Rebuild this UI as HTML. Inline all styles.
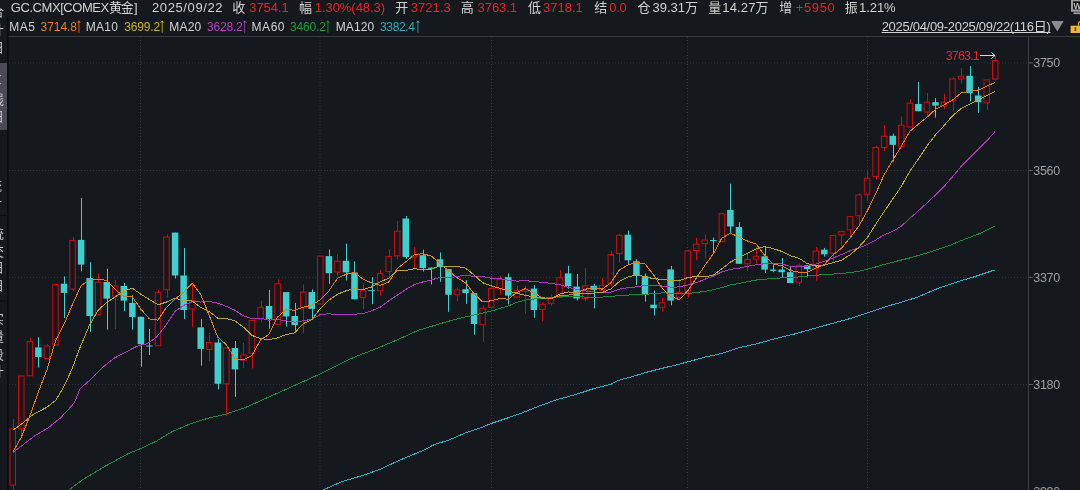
<!DOCTYPE html>
<html><head><meta charset="utf-8"><style>
html,body{margin:0;padding:0;background:#15181d;}
#w{position:relative;width:1080px;height:490px;overflow:hidden;font-family:"Liberation Sans","Noto Sans CJK SC",sans-serif;}
#w span{position:absolute;white-space:nowrap;line-height:0;}
#side{position:absolute;left:0;top:0;width:7px;height:490px;overflow:hidden;}
</style></head><body><div id="w">
<svg width="1080" height="490" viewBox="0 0 1080 490" style="position:absolute;left:0;top:0"><rect width="1080" height="490" fill="#15181d"/><rect x="0" y="63" width="7.5" height="67" fill="#4a4b55"/><rect x="7" y="17" width="1.6" height="473" fill="#0b0c0f"/><rect x="0" y="214.8" width="7" height="1.2" fill="#0b0c0f"/><rect x="0" y="300.5" width="7" height="1.2" fill="#0b0c0f"/><rect x="8.5" y="36" width="1071.5" height="1" fill="#38393e"/><rect x="1028" y="37" width="1" height="453" fill="#3e3f44"/><defs><clipPath id="cc"><rect x="8.6" y="37" width="1019.4" height="453"/></clipPath></defs><line x1="9" y1="62.9" x2="1028" y2="62.9" stroke="#303338" stroke-width="1" stroke-dasharray="1 2"/><line x1="1029" y1="62.9" x2="1033" y2="62.9" stroke="#5a5b60" stroke-width="1"/><line x1="9" y1="170.5" x2="1028" y2="170.5" stroke="#303338" stroke-width="1" stroke-dasharray="1 2"/><line x1="1029" y1="170.5" x2="1033" y2="170.5" stroke="#5a5b60" stroke-width="1"/><line x1="9" y1="277.4" x2="1028" y2="277.4" stroke="#303338" stroke-width="1" stroke-dasharray="1 2"/><line x1="1029" y1="277.4" x2="1033" y2="277.4" stroke="#5a5b60" stroke-width="1"/><line x1="9" y1="384.5" x2="1028" y2="384.5" stroke="#303338" stroke-width="1" stroke-dasharray="1 2"/><line x1="1029" y1="384.5" x2="1033" y2="384.5" stroke="#5a5b60" stroke-width="1"/><line x1="140.5" y1="37" x2="140.5" y2="490" stroke="#33363c" stroke-width="1" stroke-dasharray="1 2"/><line x1="320.0" y1="37" x2="320.0" y2="490" stroke="#33363c" stroke-width="1" stroke-dasharray="1 2"/><line x1="491.5" y1="37" x2="491.5" y2="490" stroke="#33363c" stroke-width="1" stroke-dasharray="1 2"/><line x1="687.5" y1="37" x2="687.5" y2="490" stroke="#33363c" stroke-width="1" stroke-dasharray="1 2"/><line x1="867.5" y1="37" x2="867.5" y2="490" stroke="#33363c" stroke-width="1" stroke-dasharray="1 2"/><g clip-path="url(#cc)"><line x1="13.5" y1="419" x2="13.5" y2="428.8" stroke="#d20a10"/><line x1="13.5" y1="485.1" x2="13.5" y2="492" stroke="#d20a10"/><rect x="10.00" y="428.80" width="5.5" height="56.30" fill="#15181d" stroke="#d20a10"/><line x1="21.5" y1="428.8" x2="21.5" y2="436.6" stroke="#d20a10"/><rect x="18.54" y="376.00" width="5.5" height="52.80" fill="#15181d" stroke="#d20a10"/><line x1="30.5" y1="337.8" x2="30.5" y2="341.6" stroke="#d20a10"/><line x1="30.5" y1="375.8" x2="30.5" y2="376" stroke="#d20a10"/><rect x="27.09" y="341.60" width="5.5" height="34.20" fill="#15181d" stroke="#d20a10"/><line x1="38.5" y1="337.3" x2="38.5" y2="367.6" stroke="#3ecfcf"/><rect x="35.13" y="347.40" width="6.5" height="9.60" fill="#3ecfcf"/><line x1="47.5" y1="344" x2="47.5" y2="346" stroke="#d20a10"/><rect x="44.17" y="346.00" width="5.5" height="12.50" fill="#15181d" stroke="#d20a10"/><rect x="52.72" y="284.50" width="5.5" height="60.50" fill="#15181d" stroke="#d20a10"/><line x1="64.5" y1="276.4" x2="64.5" y2="318.2" stroke="#3ecfcf"/><rect x="60.76" y="283.70" width="6.5" height="9.20" fill="#3ecfcf"/><line x1="73.5" y1="237" x2="73.5" y2="240.4" stroke="#d20a10"/><line x1="73.5" y1="289" x2="73.5" y2="291.1" stroke="#d20a10"/><rect x="69.80" y="240.40" width="5.5" height="48.60" fill="#15181d" stroke="#d20a10"/><line x1="81.5" y1="197.9" x2="81.5" y2="271.3" stroke="#3ecfcf"/><rect x="77.85" y="239.90" width="6.5" height="24.70" fill="#3ecfcf"/><line x1="90.5" y1="262.2" x2="90.5" y2="332" stroke="#3ecfcf"/><rect x="86.39" y="278.10" width="6.5" height="37.90" fill="#3ecfcf"/><line x1="98.5" y1="273.5" x2="98.5" y2="282.2" stroke="#d20a10"/><rect x="95.44" y="282.20" width="5.5" height="32.60" fill="#15181d" stroke="#d20a10"/><line x1="107.5" y1="268.9" x2="107.5" y2="329.7" stroke="#3ecfcf"/><rect x="103.48" y="282.00" width="6.5" height="16.60" fill="#3ecfcf"/><line x1="115.5" y1="280" x2="115.5" y2="286" stroke="#d20a10"/><line x1="115.5" y1="296" x2="115.5" y2="329" stroke="#d20a10"/><rect x="112.52" y="286.00" width="5.5" height="10.00" fill="#15181d" stroke="#d20a10"/><line x1="124.5" y1="283" x2="124.5" y2="311.3" stroke="#3ecfcf"/><rect x="120.57" y="286.00" width="6.5" height="14.60" fill="#3ecfcf"/><line x1="132.5" y1="295.2" x2="132.5" y2="329.7" stroke="#3ecfcf"/><rect x="129.11" y="302.90" width="6.5" height="14.10" fill="#3ecfcf"/><line x1="141.5" y1="316.8" x2="141.5" y2="366.5" stroke="#3ecfcf"/><rect x="137.65" y="316.80" width="6.5" height="27.40" fill="#3ecfcf"/><line x1="149.5" y1="329" x2="149.5" y2="355" stroke="#3ecfcf"/><rect x="146.20" y="345.50" width="6.5" height="1.00" fill="#3ecfcf"/><line x1="158.5" y1="290" x2="158.5" y2="292.3" stroke="#d20a10"/><line x1="158.5" y1="345.8" x2="158.5" y2="346" stroke="#d20a10"/><rect x="155.24" y="292.30" width="5.5" height="53.50" fill="#15181d" stroke="#d20a10"/><line x1="167.5" y1="234.2" x2="167.5" y2="237" stroke="#d20a10"/><line x1="167.5" y1="289.8" x2="167.5" y2="297.8" stroke="#d20a10"/><rect x="163.78" y="237.00" width="5.5" height="52.80" fill="#15181d" stroke="#d20a10"/><line x1="175.5" y1="232.6" x2="175.5" y2="278.5" stroke="#3ecfcf"/><rect x="171.83" y="232.60" width="6.5" height="42.90" fill="#3ecfcf"/><line x1="184.5" y1="248" x2="184.5" y2="319.2" stroke="#3ecfcf"/><rect x="180.37" y="275.50" width="6.5" height="34.50" fill="#3ecfcf"/><line x1="192.5" y1="283" x2="192.5" y2="300.8" stroke="#d20a10"/><line x1="192.5" y1="309" x2="192.5" y2="327.4" stroke="#d20a10"/><rect x="189.41" y="300.80" width="5.5" height="8.20" fill="#15181d" stroke="#d20a10"/><line x1="201.5" y1="319.2" x2="201.5" y2="365.7" stroke="#3ecfcf"/><rect x="197.46" y="327.40" width="6.5" height="21.50" fill="#3ecfcf"/><line x1="209.5" y1="332.7" x2="209.5" y2="342.5" stroke="#d20a10"/><line x1="209.5" y1="349.5" x2="209.5" y2="361.1" stroke="#d20a10"/><rect x="206.50" y="342.50" width="5.5" height="7.00" fill="#15181d" stroke="#d20a10"/><line x1="218.5" y1="338.8" x2="218.5" y2="389.3" stroke="#3ecfcf"/><rect x="214.54" y="342.50" width="6.5" height="41.30" fill="#3ecfcf"/><line x1="226.5" y1="383.8" x2="226.5" y2="416.2" stroke="#d20a10"/><rect x="223.59" y="348.00" width="5.5" height="35.80" fill="#15181d" stroke="#d20a10"/><line x1="235.5" y1="341" x2="235.5" y2="396.9" stroke="#3ecfcf"/><rect x="231.63" y="348.00" width="6.5" height="21.40" fill="#3ecfcf"/><line x1="243.5" y1="342.8" x2="243.5" y2="355" stroke="#d20a10"/><line x1="243.5" y1="360.2" x2="243.5" y2="367.9" stroke="#d20a10"/><rect x="240.67" y="355.00" width="5.5" height="5.20" fill="#15181d" stroke="#d20a10"/><line x1="252.5" y1="353.2" x2="252.5" y2="368.5" stroke="#d20a10"/><rect x="249.22" y="320.50" width="5.5" height="32.70" fill="#15181d" stroke="#d20a10"/><line x1="261.5" y1="300.6" x2="261.5" y2="307.3" stroke="#d20a10"/><line x1="261.5" y1="318.9" x2="261.5" y2="322.6" stroke="#d20a10"/><rect x="257.76" y="307.30" width="5.5" height="11.60" fill="#15181d" stroke="#d20a10"/><line x1="269.5" y1="289.9" x2="269.5" y2="328.7" stroke="#3ecfcf"/><rect x="265.81" y="306.00" width="6.5" height="12.90" fill="#3ecfcf"/><line x1="278.5" y1="279.4" x2="278.5" y2="283.8" stroke="#d20a10"/><rect x="274.85" y="283.80" width="5.5" height="40.40" fill="#15181d" stroke="#d20a10"/><line x1="286.5" y1="292.1" x2="286.5" y2="326.4" stroke="#3ecfcf"/><rect x="282.89" y="292.10" width="6.5" height="24.30" fill="#3ecfcf"/><line x1="295.5" y1="302.9" x2="295.5" y2="330.7" stroke="#3ecfcf"/><rect x="291.44" y="316.00" width="6.5" height="9.00" fill="#3ecfcf"/><line x1="303.5" y1="284.3" x2="303.5" y2="292.1" stroke="#d20a10"/><line x1="303.5" y1="307.9" x2="303.5" y2="333.6" stroke="#d20a10"/><rect x="300.48" y="292.10" width="5.5" height="15.80" fill="#15181d" stroke="#d20a10"/><line x1="312.5" y1="289.3" x2="312.5" y2="318.6" stroke="#3ecfcf"/><rect x="308.52" y="292.10" width="6.5" height="16.80" fill="#3ecfcf"/><rect x="317.57" y="256.10" width="5.5" height="47.80" fill="#15181d" stroke="#d20a10"/><line x1="329.5" y1="249.5" x2="329.5" y2="283.8" stroke="#3ecfcf"/><rect x="325.61" y="256.10" width="6.5" height="17.10" fill="#3ecfcf"/><line x1="337.5" y1="254.4" x2="337.5" y2="261.2" stroke="#d20a10"/><line x1="337.5" y1="272" x2="337.5" y2="276.4" stroke="#d20a10"/><rect x="334.65" y="261.20" width="5.5" height="10.80" fill="#15181d" stroke="#d20a10"/><line x1="346.5" y1="243.7" x2="346.5" y2="280.4" stroke="#3ecfcf"/><rect x="342.70" y="260.80" width="6.5" height="11.60" fill="#3ecfcf"/><line x1="354.5" y1="261.3" x2="354.5" y2="299.3" stroke="#3ecfcf"/><rect x="351.24" y="272.40" width="6.5" height="26.90" fill="#3ecfcf"/><line x1="363.5" y1="283.4" x2="363.5" y2="290.2" stroke="#d20a10"/><line x1="363.5" y1="297.6" x2="363.5" y2="309.1" stroke="#d20a10"/><rect x="360.28" y="290.20" width="5.5" height="7.40" fill="#15181d" stroke="#d20a10"/><line x1="372.5" y1="277.2" x2="372.5" y2="304.2" stroke="#3ecfcf"/><rect x="368.33" y="290.20" width="6.5" height="1.00" fill="#3ecfcf"/><line x1="380.5" y1="269.9" x2="380.5" y2="273.6" stroke="#d20a10"/><line x1="380.5" y1="290.7" x2="380.5" y2="295.6" stroke="#d20a10"/><rect x="377.37" y="273.60" width="5.5" height="17.10" fill="#15181d" stroke="#d20a10"/><line x1="389.5" y1="249.1" x2="389.5" y2="256.4" stroke="#d20a10"/><line x1="389.5" y1="271.6" x2="389.5" y2="277.2" stroke="#d20a10"/><rect x="385.91" y="256.40" width="5.5" height="15.20" fill="#15181d" stroke="#d20a10"/><line x1="397.5" y1="220.9" x2="397.5" y2="231.2" stroke="#d20a10"/><line x1="397.5" y1="255.9" x2="397.5" y2="259.4" stroke="#d20a10"/><rect x="394.46" y="231.20" width="5.5" height="24.70" fill="#15181d" stroke="#d20a10"/><line x1="406.5" y1="216" x2="406.5" y2="258.8" stroke="#3ecfcf"/><rect x="402.50" y="218.50" width="6.5" height="38.50" fill="#3ecfcf"/><line x1="414.5" y1="247.1" x2="414.5" y2="255.5" stroke="#d20a10"/><line x1="414.5" y1="257" x2="414.5" y2="268.7" stroke="#d20a10"/><rect x="411.54" y="255.50" width="5.5" height="1.50" fill="#15181d" stroke="#d20a10"/><line x1="423.5" y1="249.6" x2="423.5" y2="271.5" stroke="#3ecfcf"/><rect x="419.59" y="255.20" width="6.5" height="12.90" fill="#3ecfcf"/><line x1="431.5" y1="267.6" x2="431.5" y2="284.4" stroke="#3ecfcf"/><rect x="428.13" y="267.60" width="6.5" height="1.30" fill="#3ecfcf"/><line x1="440.5" y1="252.4" x2="440.5" y2="281.8" stroke="#3ecfcf"/><rect x="436.68" y="259.30" width="6.5" height="7.80" fill="#3ecfcf"/><line x1="448.5" y1="269.1" x2="448.5" y2="311.9" stroke="#3ecfcf"/><rect x="445.22" y="269.10" width="6.5" height="25.70" fill="#3ecfcf"/><line x1="457.5" y1="287.5" x2="457.5" y2="289.9" stroke="#d20a10"/><line x1="457.5" y1="294.8" x2="457.5" y2="301.4" stroke="#d20a10"/><rect x="454.26" y="289.90" width="5.5" height="4.90" fill="#15181d" stroke="#d20a10"/><line x1="466.5" y1="280.1" x2="466.5" y2="303.9" stroke="#3ecfcf"/><rect x="462.31" y="289.20" width="6.5" height="3.90" fill="#3ecfcf"/><line x1="474.5" y1="293.1" x2="474.5" y2="334.7" stroke="#3ecfcf"/><rect x="470.85" y="293.10" width="6.5" height="30.90" fill="#3ecfcf"/><line x1="483.5" y1="305.3" x2="483.5" y2="308.4" stroke="#d20a10"/><line x1="483.5" y1="324.7" x2="483.5" y2="342" stroke="#d20a10"/><rect x="479.89" y="308.40" width="5.5" height="16.30" fill="#15181d" stroke="#d20a10"/><line x1="491.5" y1="276.2" x2="491.5" y2="288.4" stroke="#d20a10"/><line x1="491.5" y1="307.5" x2="491.5" y2="308.3" stroke="#d20a10"/><rect x="488.44" y="288.40" width="5.5" height="19.10" fill="#15181d" stroke="#d20a10"/><line x1="500.5" y1="276.2" x2="500.5" y2="279.4" stroke="#d20a10"/><line x1="500.5" y1="288.6" x2="500.5" y2="294.8" stroke="#d20a10"/><rect x="496.98" y="279.40" width="5.5" height="9.20" fill="#15181d" stroke="#d20a10"/><line x1="508.5" y1="273.4" x2="508.5" y2="304.3" stroke="#3ecfcf"/><rect x="505.02" y="277.10" width="6.5" height="18.50" fill="#3ecfcf"/><line x1="517.5" y1="285.8" x2="517.5" y2="290.3" stroke="#d20a10"/><line x1="517.5" y1="297" x2="517.5" y2="297.6" stroke="#d20a10"/><rect x="514.07" y="290.30" width="5.5" height="6.70" fill="#15181d" stroke="#d20a10"/><line x1="525.5" y1="285.8" x2="525.5" y2="289.2" stroke="#d20a10"/><line x1="525.5" y1="291.4" x2="525.5" y2="313.9" stroke="#d20a10"/><rect x="522.61" y="289.20" width="5.5" height="2.20" fill="#15181d" stroke="#d20a10"/><line x1="534.5" y1="285.2" x2="534.5" y2="317.8" stroke="#3ecfcf"/><rect x="530.65" y="288.60" width="6.5" height="21.40" fill="#3ecfcf"/><line x1="542.5" y1="302.2" x2="542.5" y2="304.3" stroke="#d20a10"/><line x1="542.5" y1="309.4" x2="542.5" y2="321.2" stroke="#d20a10"/><rect x="539.70" y="304.30" width="5.5" height="5.10" fill="#15181d" stroke="#d20a10"/><line x1="551.5" y1="294.4" x2="551.5" y2="298.1" stroke="#d20a10"/><line x1="551.5" y1="303.6" x2="551.5" y2="305.6" stroke="#d20a10"/><rect x="548.24" y="298.10" width="5.5" height="5.50" fill="#15181d" stroke="#d20a10"/><line x1="560.5" y1="270.3" x2="560.5" y2="277.7" stroke="#d20a10"/><rect x="556.78" y="277.70" width="5.5" height="19.70" fill="#15181d" stroke="#d20a10"/><line x1="568.5" y1="265.8" x2="568.5" y2="288.7" stroke="#3ecfcf"/><rect x="564.83" y="273.40" width="6.5" height="12.80" fill="#3ecfcf"/><line x1="577.5" y1="274" x2="577.5" y2="300.5" stroke="#3ecfcf"/><rect x="573.37" y="286.60" width="6.5" height="11.90" fill="#3ecfcf"/><line x1="585.5" y1="267.9" x2="585.5" y2="285.8" stroke="#d20a10"/><line x1="585.5" y1="298.5" x2="585.5" y2="301.5" stroke="#d20a10"/><rect x="582.41" y="285.80" width="5.5" height="12.70" fill="#15181d" stroke="#d20a10"/><line x1="594.5" y1="283.8" x2="594.5" y2="308.3" stroke="#3ecfcf"/><rect x="590.46" y="285.80" width="6.5" height="4.10" fill="#3ecfcf"/><line x1="602.5" y1="278.2" x2="602.5" y2="285.3" stroke="#d20a10"/><rect x="599.50" y="285.30" width="5.5" height="4.90" fill="#15181d" stroke="#d20a10"/><line x1="611.5" y1="250.8" x2="611.5" y2="254.4" stroke="#d20a10"/><line x1="611.5" y1="284.1" x2="611.5" y2="287.1" stroke="#d20a10"/><rect x="608.04" y="254.40" width="5.5" height="29.70" fill="#15181d" stroke="#d20a10"/><line x1="619.5" y1="233.9" x2="619.5" y2="235.3" stroke="#d20a10"/><line x1="619.5" y1="253.5" x2="619.5" y2="262.8" stroke="#d20a10"/><rect x="616.59" y="235.30" width="5.5" height="18.20" fill="#15181d" stroke="#d20a10"/><line x1="628.5" y1="230.6" x2="628.5" y2="264.8" stroke="#3ecfcf"/><rect x="624.63" y="234.70" width="6.5" height="25.60" fill="#3ecfcf"/><line x1="636.5" y1="259.2" x2="636.5" y2="284.9" stroke="#3ecfcf"/><rect x="633.18" y="261.20" width="6.5" height="14.30" fill="#3ecfcf"/><line x1="645.5" y1="273.5" x2="645.5" y2="301.6" stroke="#3ecfcf"/><rect x="641.72" y="276.10" width="6.5" height="18.40" fill="#3ecfcf"/><line x1="654.5" y1="290.4" x2="654.5" y2="315.5" stroke="#3ecfcf"/><rect x="650.26" y="304.70" width="6.5" height="3.50" fill="#3ecfcf"/><line x1="662.5" y1="298" x2="662.5" y2="302.7" stroke="#d20a10"/><line x1="662.5" y1="307.3" x2="662.5" y2="312.2" stroke="#d20a10"/><rect x="659.31" y="302.70" width="5.5" height="4.60" fill="#15181d" stroke="#d20a10"/><line x1="671.5" y1="265.9" x2="671.5" y2="305.3" stroke="#3ecfcf"/><rect x="667.35" y="269.40" width="6.5" height="31.20" fill="#3ecfcf"/><line x1="679.5" y1="279.2" x2="679.5" y2="292.4" stroke="#d20a10"/><line x1="679.5" y1="297.6" x2="679.5" y2="300.6" stroke="#d20a10"/><rect x="676.39" y="292.40" width="5.5" height="5.20" fill="#15181d" stroke="#d20a10"/><line x1="688.5" y1="249.8" x2="688.5" y2="251" stroke="#d20a10"/><line x1="688.5" y1="291.4" x2="688.5" y2="297.6" stroke="#d20a10"/><rect x="684.94" y="251.00" width="5.5" height="40.40" fill="#15181d" stroke="#d20a10"/><line x1="696.5" y1="237.6" x2="696.5" y2="244.2" stroke="#d20a10"/><line x1="696.5" y1="250.5" x2="696.5" y2="260.3" stroke="#d20a10"/><rect x="693.48" y="244.20" width="5.5" height="6.30" fill="#15181d" stroke="#d20a10"/><line x1="705.5" y1="234.4" x2="705.5" y2="240" stroke="#d20a10"/><line x1="705.5" y1="243.7" x2="705.5" y2="257.9" stroke="#d20a10"/><rect x="702.02" y="240.00" width="5.5" height="3.70" fill="#15181d" stroke="#d20a10"/><line x1="713.5" y1="237.6" x2="713.5" y2="253.5" stroke="#3ecfcf"/><rect x="710.07" y="240.00" width="6.5" height="1.20" fill="#3ecfcf"/><rect x="719.11" y="213.80" width="5.5" height="27.90" fill="#15181d" stroke="#d20a10"/><line x1="730.5" y1="183.7" x2="730.5" y2="232.7" stroke="#3ecfcf"/><rect x="727.15" y="209.90" width="6.5" height="16.60" fill="#3ecfcf"/><line x1="739.5" y1="222.1" x2="739.5" y2="263.8" stroke="#3ecfcf"/><rect x="735.70" y="227.00" width="6.5" height="36.80" fill="#3ecfcf"/><line x1="747.5" y1="253.5" x2="747.5" y2="259.6" stroke="#d20a10"/><line x1="747.5" y1="263.8" x2="747.5" y2="271.1" stroke="#d20a10"/><rect x="744.74" y="259.60" width="5.5" height="4.20" fill="#15181d" stroke="#d20a10"/><line x1="756.5" y1="247.1" x2="756.5" y2="256.3" stroke="#d20a10"/><line x1="756.5" y1="259.2" x2="756.5" y2="263.6" stroke="#d20a10"/><rect x="753.28" y="256.30" width="5.5" height="2.90" fill="#15181d" stroke="#d20a10"/><line x1="765.5" y1="247.1" x2="765.5" y2="273.1" stroke="#3ecfcf"/><rect x="761.33" y="256.30" width="6.5" height="13.30" fill="#3ecfcf"/><line x1="773.5" y1="264.4" x2="773.5" y2="272.2" stroke="#3ecfcf"/><rect x="769.87" y="269.60" width="6.5" height="1.30" fill="#3ecfcf"/><line x1="782.5" y1="258" x2="782.5" y2="277.8" stroke="#3ecfcf"/><rect x="778.41" y="269.60" width="6.5" height="2.60" fill="#3ecfcf"/><line x1="790.5" y1="266.7" x2="790.5" y2="283" stroke="#3ecfcf"/><rect x="786.96" y="272.20" width="6.5" height="10.80" fill="#3ecfcf"/><line x1="799.5" y1="263.2" x2="799.5" y2="265.3" stroke="#d20a10"/><line x1="799.5" y1="282.3" x2="799.5" y2="286.1" stroke="#d20a10"/><rect x="796.00" y="265.30" width="5.5" height="17.00" fill="#15181d" stroke="#d20a10"/><line x1="807.5" y1="265.3" x2="807.5" y2="277.4" stroke="#3ecfcf"/><rect x="804.05" y="265.30" width="6.5" height="3.80" fill="#3ecfcf"/><line x1="816.5" y1="247.1" x2="816.5" y2="251.1" stroke="#d20a10"/><line x1="816.5" y1="268.8" x2="816.5" y2="280.6" stroke="#d20a10"/><rect x="813.09" y="251.10" width="5.5" height="17.70" fill="#15181d" stroke="#d20a10"/><line x1="824.5" y1="247.9" x2="824.5" y2="256.7" stroke="#3ecfcf"/><rect x="821.13" y="249.70" width="6.5" height="4.60" fill="#3ecfcf"/><line x1="833.5" y1="253.4" x2="833.5" y2="261.7" stroke="#d20a10"/><rect x="830.18" y="235.40" width="5.5" height="18.00" fill="#15181d" stroke="#d20a10"/><line x1="841.5" y1="231" x2="841.5" y2="231.4" stroke="#d20a10"/><line x1="841.5" y1="235" x2="841.5" y2="246" stroke="#d20a10"/><rect x="838.72" y="231.40" width="5.5" height="3.60" fill="#15181d" stroke="#d20a10"/><line x1="850.5" y1="215.8" x2="850.5" y2="216.7" stroke="#d20a10"/><line x1="850.5" y1="229.9" x2="850.5" y2="236" stroke="#d20a10"/><rect x="847.26" y="216.70" width="5.5" height="13.20" fill="#15181d" stroke="#d20a10"/><line x1="859.5" y1="193.2" x2="859.5" y2="195" stroke="#d20a10"/><line x1="859.5" y1="215.8" x2="859.5" y2="224" stroke="#d20a10"/><rect x="855.81" y="195.00" width="5.5" height="20.80" fill="#15181d" stroke="#d20a10"/><line x1="867.5" y1="170.8" x2="867.5" y2="178.2" stroke="#d20a10"/><line x1="867.5" y1="194.2" x2="867.5" y2="201.1" stroke="#d20a10"/><rect x="864.35" y="178.20" width="5.5" height="16.00" fill="#15181d" stroke="#d20a10"/><line x1="876.5" y1="145.6" x2="876.5" y2="147.5" stroke="#d20a10"/><line x1="876.5" y1="176.4" x2="876.5" y2="179.4" stroke="#d20a10"/><rect x="872.89" y="147.50" width="5.5" height="28.90" fill="#15181d" stroke="#d20a10"/><line x1="884.5" y1="125.2" x2="884.5" y2="136.3" stroke="#d20a10"/><line x1="884.5" y1="147.5" x2="884.5" y2="150.9" stroke="#d20a10"/><rect x="881.44" y="136.30" width="5.5" height="11.20" fill="#15181d" stroke="#d20a10"/><line x1="893.5" y1="133.7" x2="893.5" y2="161.5" stroke="#3ecfcf"/><rect x="889.48" y="135.80" width="6.5" height="9.00" fill="#3ecfcf"/><line x1="901.5" y1="116.4" x2="901.5" y2="125.2" stroke="#d20a10"/><rect x="898.52" y="125.20" width="5.5" height="21.70" fill="#15181d" stroke="#d20a10"/><line x1="910.5" y1="99.2" x2="910.5" y2="103.2" stroke="#d20a10"/><rect x="907.07" y="103.20" width="5.5" height="23.80" fill="#15181d" stroke="#d20a10"/><line x1="918.5" y1="81.9" x2="918.5" y2="111.2" stroke="#3ecfcf"/><rect x="915.11" y="104.00" width="6.5" height="7.20" fill="#3ecfcf"/><line x1="927.5" y1="93.1" x2="927.5" y2="102.2" stroke="#d20a10"/><line x1="927.5" y1="112" x2="927.5" y2="115.6" stroke="#d20a10"/><rect x="924.15" y="102.20" width="5.5" height="9.80" fill="#15181d" stroke="#d20a10"/><line x1="935.5" y1="98.2" x2="935.5" y2="117.5" stroke="#3ecfcf"/><rect x="932.20" y="102.20" width="6.5" height="3.40" fill="#3ecfcf"/><line x1="944.5" y1="93.6" x2="944.5" y2="102.2" stroke="#d20a10"/><line x1="944.5" y1="105.9" x2="944.5" y2="109.2" stroke="#d20a10"/><rect x="941.24" y="102.20" width="5.5" height="3.70" fill="#15181d" stroke="#d20a10"/><line x1="953.5" y1="76.6" x2="953.5" y2="79" stroke="#d20a10"/><line x1="953.5" y1="101" x2="953.5" y2="111.4" stroke="#d20a10"/><rect x="949.78" y="79.00" width="5.5" height="22.00" fill="#15181d" stroke="#d20a10"/><line x1="961.5" y1="67.9" x2="961.5" y2="76.2" stroke="#d20a10"/><line x1="961.5" y1="79" x2="961.5" y2="83.5" stroke="#d20a10"/><rect x="958.33" y="76.20" width="5.5" height="2.80" fill="#15181d" stroke="#d20a10"/><line x1="970.5" y1="66.1" x2="970.5" y2="101.5" stroke="#3ecfcf"/><rect x="966.37" y="75.80" width="6.5" height="17.30" fill="#3ecfcf"/><line x1="978.5" y1="86.8" x2="978.5" y2="112.9" stroke="#3ecfcf"/><rect x="974.92" y="95.50" width="6.5" height="6.70" fill="#3ecfcf"/><line x1="987.5" y1="102.8" x2="987.5" y2="110.1" stroke="#d20a10"/><rect x="983.96" y="79.90" width="5.5" height="22.90" fill="#15181d" stroke="#d20a10"/><line x1="995.5" y1="55.5" x2="995.5" y2="60.6" stroke="#d20a10"/><line x1="995.5" y1="79" x2="995.5" y2="80.7" stroke="#d20a10"/><rect x="992.50" y="60.60" width="5.5" height="18.40" fill="#15181d" stroke="#d20a10"/><polyline points="300.00,499.00 324.60,489.30 342.20,481.50 364.40,475.00 381.10,468.90 399.60,460.20 421.90,450.90 434.80,444.40 449.60,439.80 464.40,433.30 483.00,426.90 492.20,423.10 520.00,413.80 538.50,406.30 557.00,399.60 575.60,394.60 594.10,388.50 610.70,384.40 618.10,380.40 631.10,377.00 645.90,372.40 660.70,368.70 679.30,364.10 686.70,362.20 705.20,357.00 720.00,353.90 738.50,347.80 757.00,343.70 775.60,338.50 794.10,334.10 812.60,328.90 831.10,323.70 849.60,318.70 868.10,312.60 886.70,306.30 900.00,302.70 918.40,296.80 936.80,288.90 955.10,282.50 973.50,277.00 995.25,269.80" fill="none" stroke="#2aaac4" stroke-width="1" stroke-linejoin="round" shape-rendering="crispEdges"/><polyline points="12.50,523.00 69.00,490.00 82.40,479.90 104.90,466.40 127.30,454.10 140.80,448.50 156.50,441.10 172.20,431.60 190.20,423.80 208.10,418.20 226.10,414.10 244.10,408.10 272.40,395.40 294.90,385.30 317.30,375.20 339.80,364.00 355.50,356.60 373.50,349.80 395.90,340.40 418.40,330.30 440.00,323.70 458.50,318.50 477.00,314.40 495.60,309.80 508.00,306.00 516.82,302.40 525.36,300.08 533.90,298.98 542.45,298.36 550.99,297.38 559.53,296.24 568.08,296.27 576.62,296.36 585.16,297.12 593.71,297.54 602.25,297.02 610.79,296.56 619.34,295.51 627.88,295.08 636.43,294.66 644.97,294.28 653.51,293.69 662.06,292.95 670.60,293.09 679.14,294.02 687.69,293.61 696.23,292.51 704.77,291.50 713.32,289.70 721.86,287.56 730.40,284.94 738.95,283.53 747.49,281.70 756.03,280.06 764.58,279.21 773.12,278.60 781.66,277.82 790.21,277.81 798.75,276.96 807.30,276.03 815.84,275.35 824.38,274.44 832.93,274.09 841.47,273.39 850.01,272.65 858.56,271.36 867.10,269.34 875.64,266.96 884.19,264.38 892.73,262.24 901.27,260.05 909.82,257.92 918.36,255.49 926.90,252.93 935.45,250.22 943.99,247.45 952.53,244.31 961.08,240.67 969.62,237.39 978.17,234.20 986.71,230.14 995.25,226.01" fill="none" stroke="#188c3a" stroke-width="1" stroke-linejoin="round" shape-rendering="crispEdges"/><polyline points="12.80,452.50 23.90,444.10 34.50,436.10 47.80,428.10 61.00,417.50 74.30,402.90 80.00,388.90 91.20,378.80 102.50,367.50 113.70,358.50 124.90,352.50 136.20,346.60 147.40,343.50 156.40,337.20 165.40,326.00 172.10,315.80 175.08,311.39 183.62,305.44 192.16,301.69 200.71,302.05 209.25,301.32 217.79,303.22 226.34,306.39 234.88,310.21 243.42,315.94 251.97,318.74 260.51,318.31 269.06,320.14 277.60,319.40 286.14,320.92 294.69,322.14 303.23,320.89 311.77,319.13 320.32,314.61 328.86,313.66 337.40,314.87 345.95,314.71 354.49,314.18 363.03,313.64 371.58,310.76 380.12,307.31 388.66,300.94 397.21,295.11 405.75,289.49 414.29,284.51 422.84,281.89 431.38,279.97 439.93,277.38 448.47,277.93 457.01,276.61 465.56,275.01 474.10,276.61 482.64,276.58 491.19,278.19 499.73,278.50 508.27,280.23 516.82,281.12 525.36,280.62 533.90,281.61 542.45,282.26 550.99,283.49 559.53,284.55 568.08,287.30 576.62,289.38 585.16,290.89 593.71,291.98 602.25,292.80 610.79,292.17 619.34,289.19 627.88,287.71 636.43,286.83 644.97,285.36 653.51,285.34 662.06,286.06 670.60,287.12 679.14,286.96 687.69,285.00 696.23,282.75 704.77,279.25 713.32,276.09 721.86,271.88 730.40,269.31 738.95,268.19 747.49,266.25 756.03,264.77 764.58,263.76 773.12,263.04 781.66,263.93 790.21,266.31 798.75,266.56 807.30,266.25 815.84,264.07 824.38,261.38 832.93,258.01 841.47,254.56 850.01,250.77 858.56,247.97 867.10,244.67 875.64,240.04 884.19,234.80 892.73,231.35 901.27,226.28 909.82,218.26 918.36,210.83 926.90,203.13 935.45,194.93 943.99,186.50 952.53,176.83 961.08,166.50 969.62,157.88 978.17,149.54 986.71,140.98 995.25,131.30" fill="none" stroke="#a838b8" stroke-width="1" stroke-linejoin="round" shape-rendering="crispEdges"/><polyline points="12.80,430.30 21.30,424.20 33.20,414.40 46.50,407.50 55.70,400.30 63.70,387.00 71.70,369.80 79.60,348.60 89.64,324.78 98.19,310.12 106.73,302.38 115.27,296.82 123.82,291.18 132.36,288.28 140.90,294.25 149.45,299.61 157.99,304.80 166.53,302.04 175.08,297.99 183.62,300.77 192.16,300.99 200.71,307.28 209.25,311.47 217.79,318.15 226.34,318.53 234.88,320.82 243.42,327.09 251.97,335.44 260.51,338.62 269.06,339.51 277.60,337.81 286.14,334.56 294.69,332.81 303.23,323.64 311.77,319.73 320.32,308.40 328.86,300.22 337.40,294.29 345.95,290.80 354.49,288.84 363.03,289.48 371.58,286.96 380.12,281.82 388.66,278.25 397.21,270.48 405.75,270.57 414.29,268.80 422.84,269.49 431.38,269.14 439.93,265.92 448.47,266.38 457.01,266.25 465.56,268.20 474.10,274.96 482.64,282.68 491.19,285.82 499.73,288.21 508.27,290.96 516.82,293.10 525.36,295.31 533.90,296.83 542.45,298.27 550.99,298.77 559.53,294.14 568.08,291.92 576.62,292.93 585.16,293.57 593.71,293.00 602.25,292.50 610.79,289.02 619.34,281.55 627.88,277.15 636.43,274.89 644.97,276.57 653.51,278.77 662.06,279.19 670.60,280.67 679.14,280.92 687.69,277.49 696.23,276.47 704.77,276.94 713.32,275.03 721.86,268.86 730.40,262.06 738.95,257.62 747.49,253.31 756.03,248.88 764.58,246.60 773.12,248.59 781.66,251.39 790.21,255.69 798.75,258.10 807.30,263.63 815.84,266.09 824.38,265.14 832.93,262.72 841.47,260.23 850.01,254.94 858.56,247.35 867.10,237.95 875.64,224.40 884.19,211.50 892.73,199.07 901.27,186.48 909.82,171.37 918.36,158.95 926.90,146.03 935.45,134.92 943.99,125.64 952.53,115.72 961.08,108.59 969.62,104.27 978.17,100.01 986.71,95.48 995.25,91.22" fill="none" stroke="#b8a52c" stroke-width="1" stroke-linejoin="round" shape-rendering="crispEdges"/><polyline points="12.75,452.30 21.30,437.40 29.80,416.00 38.40,392.00 46.92,369.88 55.47,341.02 64.01,324.40 72.55,304.16 81.10,285.68 89.64,279.68 98.19,279.22 106.73,280.36 115.27,289.48 123.82,296.68 132.36,296.88 140.90,309.28 149.45,318.86 157.99,320.12 166.53,307.40 175.08,299.10 183.62,292.26 192.16,283.12 200.71,294.44 209.25,315.54 217.79,337.20 226.34,344.80 234.88,358.52 243.42,359.74 251.97,355.34 260.51,340.04 269.06,334.22 277.60,317.10 286.14,309.38 294.69,310.28 303.23,307.24 311.77,305.24 320.32,299.70 328.86,291.06 337.40,278.30 345.95,274.36 354.49,272.44 363.03,279.26 371.58,282.86 380.12,285.34 388.66,282.14 397.21,268.52 405.75,261.88 414.29,254.74 422.84,253.64 431.38,256.14 439.93,263.32 448.47,270.88 457.01,277.76 465.56,282.76 474.10,293.78 482.64,302.04 491.19,300.76 499.73,298.66 508.27,299.16 516.82,292.42 525.36,288.58 533.90,292.90 542.45,297.88 550.99,298.38 559.53,295.86 568.08,295.26 576.62,292.96 585.16,289.26 593.71,287.62 602.25,289.14 610.79,282.78 619.34,270.14 627.88,265.04 636.43,262.16 644.97,264.00 653.51,274.76 662.06,288.24 670.60,296.30 679.14,299.68 687.69,290.98 696.23,278.18 704.77,265.64 713.32,253.76 721.86,238.04 730.40,233.14 738.95,237.06 747.49,240.98 756.03,244.00 764.58,255.16 773.12,264.04 781.66,265.72 790.21,270.40 798.75,272.20 807.30,272.10 815.84,268.14 824.38,264.56 832.93,255.04 841.47,248.26 850.01,237.78 858.56,226.56 867.10,211.34 875.64,193.76 884.19,174.74 892.73,160.36 901.27,146.40 909.82,131.40 918.36,124.14 926.90,117.32 935.45,109.48 943.99,104.88 952.53,100.04 961.08,93.04 969.62,91.22 978.17,90.54 986.71,86.08 995.25,82.40" fill="none" stroke="#e47c1a" stroke-width="1" stroke-linejoin="round" shape-rendering="crispEdges"/></g><line x1="980" y1="55.5" x2="995" y2="55.5" stroke="#d8d8d8" stroke-width="1"/><polyline points="991.5,52.5 995,55.5 991.5,58.5" fill="none" stroke="#d8d8d8" stroke-width="1"/><rect x="1071" y="0" width="12" height="11.8" fill="#9c9c9c"/><rect x="1073" y="1.3" width="10" height="8.1" fill="#0c0d10"/><rect x="1073.6" y="11.8" width="9" height="1.1" fill="#5f6a74"/><rect x="1073.4" y="12.9" width="9" height="1.2" fill="#a4a4a4"/><polygon points="1051,21 1063.7,21 1057.3,31.6" fill="#8c8c8c"/><rect x="1070.6" y="25.7" width="10" height="7.3" fill="#f0b43a"/><rect x="1074.6" y="27.3" width="1.6" height="3.6" fill="#5a3e10"/><path d="M1078.5 25.7 V23.5 a2 2 0 0 1 4 0" fill="none" stroke="#f0b43a" stroke-width="1.2"/></svg>
<span style="left:10.8px;top:7.80px;color:#d2d2d2;font-size:13px;letter-spacing:-0.445px;font-family:'Liberation Sans','Noto Sans CJK SC',sans-serif;">GC.CMX[COMEX</span><span style="left:109.1px;top:7.80px;color:#d2d2d2;font-size:13px;letter-spacing:-1.4px;font-family:'Liberation Sans','Noto Sans CJK SC',sans-serif;">黄金</span><span style="left:133.9px;top:7.80px;color:#d2d2d2;font-size:13px;letter-spacing:0.0px;font-family:'Liberation Sans','Noto Sans CJK SC',sans-serif;">]</span><span style="left:152.0px;top:7.80px;color:#d2d2d2;font-size:13px;letter-spacing:0.611px;font-family:'Liberation Sans','Noto Sans CJK SC',sans-serif;">2025/09/22</span><span style="left:232.3px;top:7.80px;color:#d2d2d2;font-size:13px;letter-spacing:0.0px;font-family:'Liberation Sans','Noto Sans CJK SC',sans-serif;">收</span><span style="left:249.2px;top:7.80px;color:#e8222c;font-size:13px;letter-spacing:-0.04px;font-family:'Liberation Sans','Noto Sans CJK SC',sans-serif;">3754.1</span><span style="left:299.0px;top:7.80px;color:#d2d2d2;font-size:13px;letter-spacing:0.0px;font-family:'Liberation Sans','Noto Sans CJK SC',sans-serif;">幅</span><span style="left:314.8px;top:7.80px;color:#e8222c;font-size:13px;letter-spacing:-0.06px;font-family:'Liberation Sans','Noto Sans CJK SC',sans-serif;">1.30%(48.3)</span><span style="left:395.3px;top:7.80px;color:#d2d2d2;font-size:13px;letter-spacing:0.0px;font-family:'Liberation Sans','Noto Sans CJK SC',sans-serif;">开</span><span style="left:410.8px;top:7.80px;color:#e8222c;font-size:13px;letter-spacing:0.04px;font-family:'Liberation Sans','Noto Sans CJK SC',sans-serif;">3721.3</span><span style="left:460.7px;top:7.80px;color:#d2d2d2;font-size:13px;letter-spacing:0.0px;font-family:'Liberation Sans','Noto Sans CJK SC',sans-serif;">高</span><span style="left:477.5px;top:7.80px;color:#e8222c;font-size:13px;letter-spacing:-0.04px;font-family:'Liberation Sans','Noto Sans CJK SC',sans-serif;">3763.1</span><span style="left:528.0px;top:7.80px;color:#d2d2d2;font-size:13px;letter-spacing:0.0px;font-family:'Liberation Sans','Noto Sans CJK SC',sans-serif;">低</span><span style="left:543.0px;top:7.80px;color:#e8222c;font-size:13px;letter-spacing:0.0px;font-family:'Liberation Sans','Noto Sans CJK SC',sans-serif;">3718.1</span><span style="left:594.2px;top:7.80px;color:#d2d2d2;font-size:13px;letter-spacing:0.0px;font-family:'Liberation Sans','Noto Sans CJK SC',sans-serif;">结</span><span style="left:609.2px;top:7.80px;color:#e8222c;font-size:13px;letter-spacing:-0.25px;font-family:'Liberation Sans','Noto Sans CJK SC',sans-serif;">0.0</span><span style="left:637.5px;top:7.80px;color:#d2d2d2;font-size:13px;letter-spacing:0.0px;font-family:'Liberation Sans','Noto Sans CJK SC',sans-serif;">仓</span><span style="left:652.5px;top:7.80px;color:#d2d2d2;font-size:13px;letter-spacing:0.0px;font-family:'Liberation Sans','Noto Sans CJK SC',sans-serif;">39.31万</span><span style="left:708.3px;top:7.80px;color:#d2d2d2;font-size:13px;letter-spacing:0.0px;font-family:'Liberation Sans','Noto Sans CJK SC',sans-serif;">量</span><span style="left:722.3px;top:7.80px;color:#d2d2d2;font-size:13px;letter-spacing:0.14px;font-family:'Liberation Sans','Noto Sans CJK SC',sans-serif;">14.27万</span><span style="left:779.2px;top:7.80px;color:#d2d2d2;font-size:13px;letter-spacing:0.0px;font-family:'Liberation Sans','Noto Sans CJK SC',sans-serif;">增</span><span style="left:795.8px;top:7.80px;color:#e8222c;font-size:13px;letter-spacing:0.6px;font-family:'Liberation Sans','Noto Sans CJK SC',sans-serif;">+5950</span><span style="left:844.7px;top:7.80px;color:#d2d2d2;font-size:13px;letter-spacing:0.0px;font-family:'Liberation Sans','Noto Sans CJK SC',sans-serif;">振</span><span style="left:859.0px;top:7.80px;color:#d2d2d2;font-size:13px;letter-spacing:-0.05px;font-family:'Liberation Sans','Noto Sans CJK SC',sans-serif;">1.21%</span><span style="left:9.2px;top:26.84px;color:#d2d2d2;font-size:12px;letter-spacing:0.55px;font-family:'Liberation Sans','Noto Sans CJK SC',sans-serif;">MA5</span><span style="left:40.6px;top:26.84px;color:#ec7c1c;font-size:12px;letter-spacing:-0.06px;font-family:'Liberation Sans','Noto Sans CJK SC',sans-serif;">3714.8</span><span style="left:76.3px;top:26.67px;color:#ec7c1c;font-size:12.5px;letter-spacing:0.0px;font-family:'NanumGothic',sans-serif;font-weight:bold;">↑</span><span style="left:85.7px;top:26.84px;color:#d2d2d2;font-size:12px;letter-spacing:0.267px;font-family:'Liberation Sans','Noto Sans CJK SC',sans-serif;">MA10</span><span style="left:124.2px;top:26.84px;color:#c9b52a;font-size:12px;letter-spacing:-0.14px;font-family:'Liberation Sans','Noto Sans CJK SC',sans-serif;">3699.2</span><span style="left:159.5px;top:26.67px;color:#c9b52a;font-size:12.5px;letter-spacing:0.0px;font-family:'NanumGothic',sans-serif;font-weight:bold;">↑</span><span style="left:169.3px;top:26.84px;color:#d2d2d2;font-size:12px;letter-spacing:0.167px;font-family:'Liberation Sans','Noto Sans CJK SC',sans-serif;">MA20</span><span style="left:207.0px;top:26.84px;color:#b444c0;font-size:12px;letter-spacing:-0.2px;font-family:'Liberation Sans','Noto Sans CJK SC',sans-serif;">3628.2</span><span style="left:242.0px;top:26.67px;color:#b444c0;font-size:12.5px;letter-spacing:0.0px;font-family:'NanumGothic',sans-serif;font-weight:bold;">↑</span><span style="left:251.5px;top:26.84px;color:#d2d2d2;font-size:12px;letter-spacing:0.567px;font-family:'Liberation Sans','Noto Sans CJK SC',sans-serif;">MA60</span><span style="left:290.0px;top:26.84px;color:#1d9a3e;font-size:12px;letter-spacing:-0.14px;font-family:'Liberation Sans','Noto Sans CJK SC',sans-serif;">3460.2</span><span style="left:325.3px;top:26.67px;color:#1d9a3e;font-size:12.5px;letter-spacing:0.0px;font-family:'NanumGothic',sans-serif;font-weight:bold;">↑</span><span style="left:335.7px;top:26.84px;color:#d2d2d2;font-size:12px;letter-spacing:0.125px;font-family:'Liberation Sans','Noto Sans CJK SC',sans-serif;">MA120</span><span style="left:380.0px;top:26.84px;color:#2aaec0;font-size:12px;letter-spacing:-0.34px;font-family:'Liberation Sans','Noto Sans CJK SC',sans-serif;">3382.4</span><span style="left:415.3px;top:26.67px;color:#2aaec0;font-size:12.5px;letter-spacing:0.0px;font-family:'NanumGothic',sans-serif;font-weight:bold;">↑</span><span style="left:881.7px;top:26.50px;color:#d2d2d2;font-size:13px;letter-spacing:-0.3px;font-family:'Liberation Sans','Noto Sans CJK SC',sans-serif;text-decoration:underline;text-underline-offset:1px;text-decoration-skip-ink:none;">2025/04/09-2025/09/22(116日)</span><span style="left:1033.3px;top:63.27px;color:#9e9e9e;font-size:12.5px;letter-spacing:-0.333px;font-family:'Liberation Sans','Noto Sans CJK SC',sans-serif;">3750</span><span style="left:1033.3px;top:171.07px;color:#9e9e9e;font-size:12.5px;letter-spacing:-0.333px;font-family:'Liberation Sans','Noto Sans CJK SC',sans-serif;">3560</span><span style="left:1033.3px;top:278.27px;color:#9e9e9e;font-size:12.5px;letter-spacing:-0.333px;font-family:'Liberation Sans','Noto Sans CJK SC',sans-serif;">3370</span><span style="left:1033.3px;top:385.27px;color:#9e9e9e;font-size:12.5px;letter-spacing:-0.333px;font-family:'Liberation Sans','Noto Sans CJK SC',sans-serif;">3180</span><span style="left:1033.3px;top:492.07px;color:#9e9e9e;font-size:12.5px;letter-spacing:-0.333px;font-family:'Liberation Sans','Noto Sans CJK SC',sans-serif;">2990</span><span style="left:945.7px;top:56.17px;color:#e8222c;font-size:12.5px;letter-spacing:-0.82px;font-family:'Liberation Sans','Noto Sans CJK SC',sans-serif;">3763.1</span><span style="left:1073.6px;top:5.95px;color:#bdbdbd;font-size:8.5px;letter-spacing:0px;font-weight:bold;">W</span>
<div id="side"><span style="left:-9px;top:12.0px;color:#c8c8c8;font-size:13px">合</span><span style="left:-9px;top:30.0px;color:#c8c8c8;font-size:13px">计</span><span style="left:-9px;top:48.0px;color:#c8c8c8;font-size:13px">日</span><span style="left:-2px;top:74.5px;color:#c8c8c8;font-size:13px">·</span><span style="left:-2px;top:82.5px;color:#c8c8c8;font-size:13px">·</span><span style="left:-9px;top:99.5px;color:#c8c8c8;font-size:13px">线</span><span style="left:-9px;top:117.0px;color:#c8c8c8;font-size:13px">日</span><span style="left:-10px;top:142.5px;color:#c8c8c8;font-size:13px">·</span><span style="left:-11px;top:185.5px;color:#c8c8c8;font-size:13px">统</span><span style="left:-11px;top:202.5px;color:#c8c8c8;font-size:13px">计</span><span style="left:-9px;top:233.5px;color:#c8c8c8;font-size:13px">统</span><span style="left:-9px;top:251.5px;color:#c8c8c8;font-size:13px">交</span><span style="left:-9px;top:267.5px;color:#c8c8c8;font-size:13px">日</span><span style="left:-9px;top:285.5px;color:#c8c8c8;font-size:13px">日</span><span style="left:-9px;top:318.5px;color:#c8c8c8;font-size:13px">实</span><span style="left:-9px;top:336.5px;color:#c8c8c8;font-size:13px">量</span><span style="left:-9px;top:354.5px;color:#c8c8c8;font-size:13px">段</span><span style="left:-9px;top:371.5px;color:#c8c8c8;font-size:13px">计</span></div>
</div></body></html>
